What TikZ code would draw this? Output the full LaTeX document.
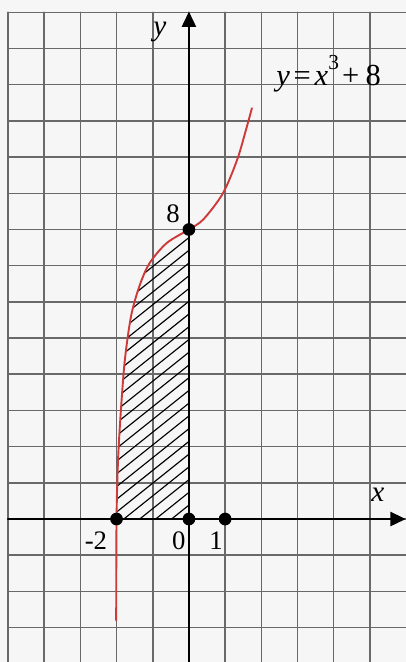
\documentclass[tikz,border=0pt]{standalone}
\usepackage{fontspec}
\setmainfont{Liberation Serif}
\usepackage{tikz}
\definecolor{curvered}{RGB}{205,58,58}
\definecolor{gridgray}{RGB}{105,105,105}
\definecolor{paper}{RGB}{246,246,246}
\usetikzlibrary{arrows.meta}
\tikzset{
    gridline/.style = {gridgray, line width=1.2pt},
    axis/.style = {line width=1.7pt, -{Triangle[length=12pt,width=11pt]}},
    lbl/.style = {font=\fontsize{21}{23}\selectfont, inner sep=0pt},
    dot/.style = {circle, fill=black, inner sep=0pt, minimum size=10pt},
}
\newcommand{\cubicpts}{(-2,0) (-1.96,1.6) (-1.88,3.0) (-1.77,4.4) (-1.6,5.6) (-1.38,6.4) (-1.1,7.05) (-0.62,7.62) (0,8)}

\begin{document}
\begin{tikzpicture}[scale = 1, line cap=round,line join=round,x=1.0cm,y=1.0cm]
\fill[paper] (-5.22,-3.95) rectangle (5.99,14.34);
\useasboundingbox (-5.22,-3.95) rectangle (5.99,14.34);

\foreach \i in {-5,...,5}
    \draw[gridline] (\i,-3.95) -- (\i,14);
\foreach \j in {-3,...,14}
    \draw[gridline] (-5,\j) -- (5.99,\j);

% hatched area under the curve
\begin{scope}
\clip plot[smooth] coordinates {\cubicpts} -- (0,0) -- cycle;
\foreach \a in {-10.6,-10.16,...,0.3}
    \draw[line width=0.9pt] (\a,0) -- ++(12,9.6);
\end{scope}

\draw[axis] (-5,0) -- (5.99,0);
\draw[axis] (0,-3.95) -- (0,14.02);

\draw[curvered, line width=1.5pt] plot[smooth] coordinates {(-2.01,-2.8) \cubicpts (0.4,8.28) (0.94,9.0) (1.33,9.92) (1.55,10.66) (1.74,11.35)};

\node[dot] (pm2) at (-2,0) {};
\node[dot] (po) at (0,0) {};
\node[dot] (p1) at (1,0) {};
\node[dot] (p8) at (0,8) {};

\node[lbl] (lm2) at (-2.57,-0.6) {-2};
\node[lbl] (lo) at (-0.28,-0.6) {0};
\node[lbl] (l1) at (0.75,-0.6) {1};
\node[lbl] (l8) at (-0.44,8.43) {8};
\node[lbl, font=\fontsize{23}{25}\selectfont] (lx) at (5.22,0.66) {\textit{x}};
\node[lbl, font=\fontsize{23}{25}\selectfont] (ly) at (-0.8,13.45) {\textit{y}};
\node[lbl, font=\fontsize{24}{26}\selectfont] (eq) at (3.86,12.3)
    {\textit{y}\hspace{3pt}=\hspace{3pt}\textit{x}\raisebox{3pt}{\textsuperscript{3}}\hspace{2pt}+\hspace{5pt}8};
\end{tikzpicture}
\end{document}
